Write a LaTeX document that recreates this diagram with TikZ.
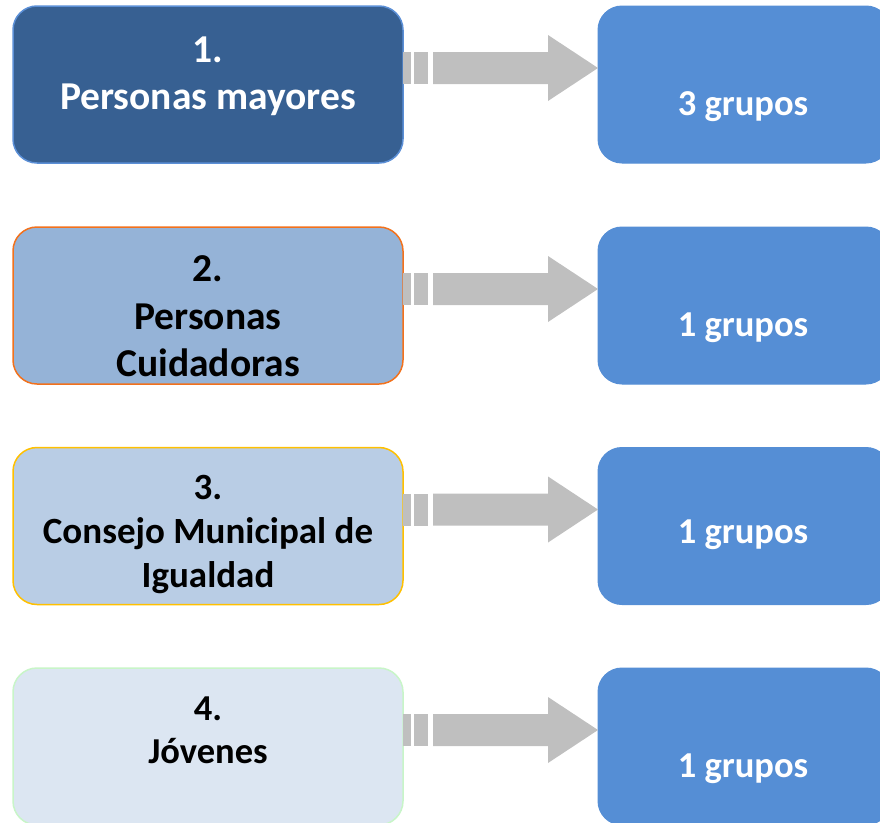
\documentclass[tikz,border=0pt]{standalone}
\usepackage{fontspec}
\setmainfont{Carlito}
\usetikzlibrary{calc}
\definecolor{darkbox}{HTML}{376092}
\definecolor{darkedge}{HTML}{5B8FD6}
\definecolor{midbox}{HTML}{95B3D7}
\definecolor{orangeedge}{HTML}{F2711C}
\definecolor{lightbox}{HTML}{B9CDE5}
\definecolor{yellowedge}{HTML}{FFC000}
\definecolor{palebox}{HTML}{DCE6F2}
\definecolor{greenedge}{HTML}{C8F5C8}
\definecolor{rightbox}{HTML}{558ED5}
\definecolor{arrowgray}{HTML}{BFBFBF}
\tikzset{
  leftbox/.style={rectangle, rounded corners=24pt, minimum width=390pt, minimum height=157pt, line width=1.5pt, inner sep=0pt, outer sep=0pt},
  rightboxstyle/.style={rectangle, rounded corners=24pt, fill=rightbox, draw=rightbox, minimum width=292pt, minimum height=157pt, line width=1pt, inner sep=0pt, outer sep=0pt},
  lbl/.style={anchor=base, inner sep=0pt, font=\fontsize{39.5}{47}\selectfont\bfseries},
  lblsmall/.style={anchor=base, inner sep=0pt, font=\fontsize{37}{44}\selectfont\bfseries},
  lblsm/.style={anchor=base, inner sep=0pt, font=\fontsize{36.5}{43}\selectfont\bfseries},
  arrowshape/.style={fill=arrowgray, draw=none}
}
\newcommand{\grayarrow}[3]{%
  \coordinate (#3s) at ([yshift=16.5pt]#1.east);
  \coordinate (#3t) at (#2.west |- #3s);
  \fill[arrowshape] ($(#3s)+(0,-16)$) rectangle ($(#3s)+(8,16)$);
  \fill[arrowshape] ($(#3s)+(11,-16)$) rectangle ($(#3s)+(25,16)$);
  \fill[arrowshape] ($(#3s)+(30,-16)$) -- ($(#3t)+(-50,-16)$) -- ($(#3t)+(-50,-33)$) -- (#3t) -- ($(#3t)+(-50,33)$) -- ($(#3t)+(-50,16)$) -- ($(#3s)+(30,16)$) -- cycle;
}
\begin{document}
\begin{tikzpicture}[x=1pt, y=-1pt]
\useasboundingbox (0,0) rectangle (880,822);
% left boxes
\node[leftbox, fill=darkbox, draw=darkedge] (L1) at (208,84.5) {};
\node[leftbox, fill=midbox, draw=orangeedge] (L2) at (208,305.5) {};
\node[leftbox, fill=lightbox, draw=yellowedge] (L3) at (208,526) {};
\node[leftbox, fill=palebox, draw=greenedge] (L4) at (208,746.5) {};
% right boxes
\node[rightboxstyle] (R1) at (744,84.5) {};
\node[rightboxstyle] (R2) at (744,305.5) {};
\node[rightboxstyle] (R3) at (744,526) {};
\node[rightboxstyle] (R4) at (744,746.5) {};
% arrows
\grayarrow{L1}{R1}{a1}
\grayarrow{L2}{R2}{a2}
\grayarrow{L3}{R3}{a3}
\grayarrow{L4}{R4}{a4}
% left texts
\node[lbl, text=white] (t1a) at (208,62) {1.};
\node[lbl, text=white] (t1b) at (208,109) {Personas mayores};
\node[lbl] (t2a) at (208,281) {2.};
\node[lbl] (t2b) at (208,329) {Personas};
\node[lbl] (t2c) at (208,376.5) {Cuidadoras};
\node[lblsmall] (t3a) at (208,499) {3.};
\node[lblsmall] (t3b) at (208,543) {Consejo Municipal de};
\node[lblsmall] (t3c) at (208,587) {Igualdad};
\node[lblsm] (t4a) at (208,720) {4.};
\node[lblsm] (t4b) at (208,763) {Jóvenes};
% right texts
\node[lblsm, text=white] (r1) at (743,115) {3 grupos};
\node[lblsm, text=white] (r2) at (743,336) {1 grupos};
\node[lblsm, text=white] (r3) at (743,543) {1 grupos};
\node[lblsm, text=white] (r4) at (743,777.5) {1 grupos};
\end{tikzpicture}
\end{document}
